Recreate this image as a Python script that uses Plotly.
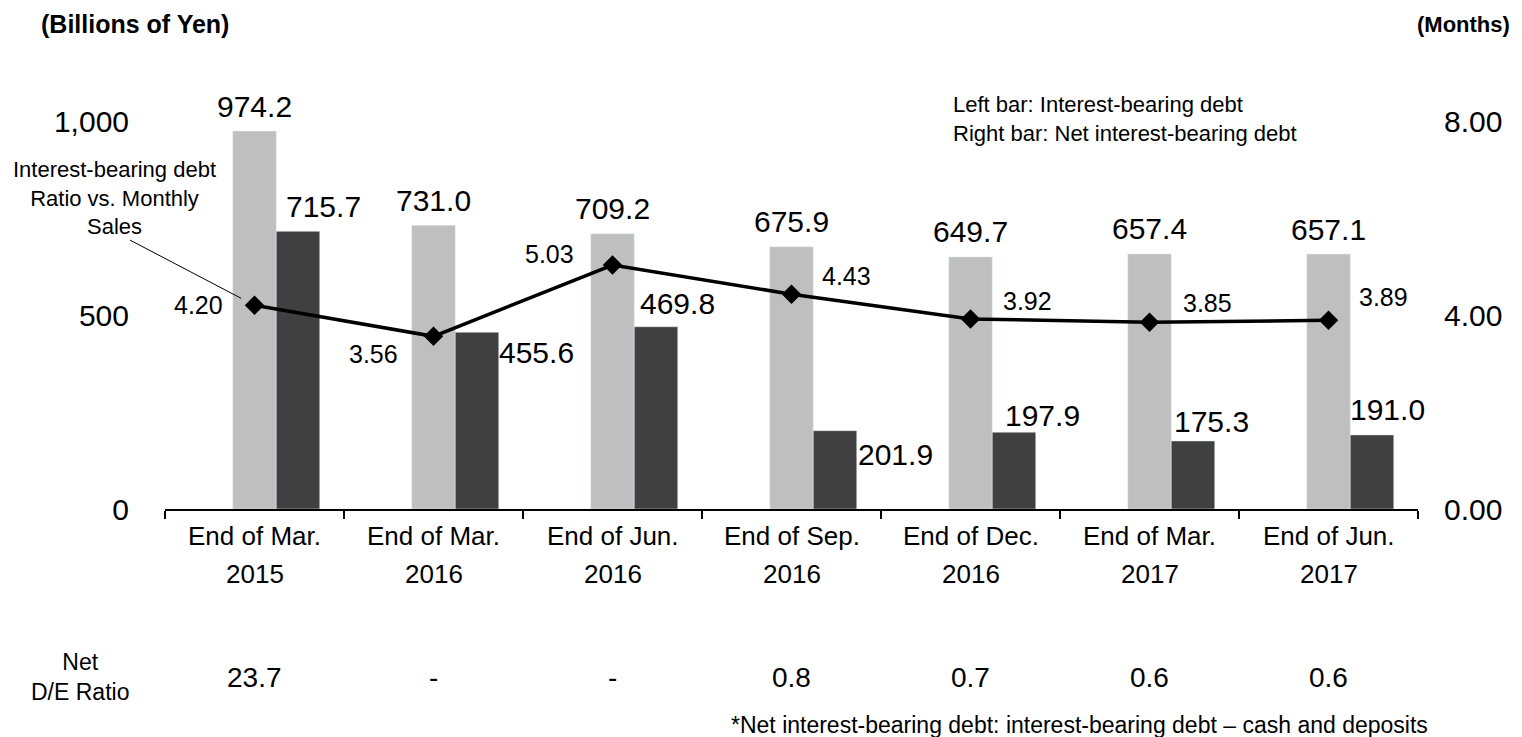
import plotly.graph_objects as go

# data
periods = ["End of Mar.<br>2015", "End of Mar.<br>2016", "End of Jun.<br>2016",
           "End of Sep.<br>2016", "End of Dec.<br>2016", "End of Mar.<br>2017",
           "End of Jun.<br>2017"]
debt = [974.2, 731.0, 709.2, 675.9, 649.7, 657.4, 657.1]
net_debt = [715.7, 455.6, 469.8, 201.9, 197.9, 175.3, 191.0]
ratio_months = [4.20, 3.56, 5.03, 4.43, 3.92, 3.85, 3.89]
net_de = ["23.7", "-", "-", "0.8", "0.7", "0.6", "0.6"]

# label placement (pixel shifts), styling only
net_label_shift = [(69, 25), (103, -20), (65, 23), (104, -24), (72, 17), (62, 19), (59, 25)]
ratio_label_shift = [(-56, 0), (-60, -18), (-63, 11), (55, 18), (57, 18), (58, 19), (55, 23)]

FONT = "Arial, Liberation Sans, sans-serif"
LIGHT = "#bfbfbf"
DARK = "#404040"
BW = 0.243


def f(size):
    return dict(size=size, family=FONT, color="black")


fig = go.Figure()
fig.add_trace(go.Bar(x=periods, y=debt, marker_color=LIGHT, width=BW, offset=-BW / 2,
                     name="Interest-bearing debt"))
fig.add_trace(go.Bar(x=periods, y=net_debt, marker_color=DARK, width=BW, offset=BW / 2,
                     name="Net interest-bearing debt"))
fig.add_trace(go.Scatter(x=periods, y=ratio_months, yaxis="y2", mode="lines+markers",
                         line=dict(color="black", width=3.5),
                         marker=dict(symbol="diamond", size=15, color="black"),
                         name="Ratio vs. Monthly Sales"))

ann = []
for p, v in zip(periods, debt):
    ann.append(dict(x=p, y=v, xref="x", yref="y", text=f"{v:.1f}", showarrow=False,
                    yshift=25, font=f(30)))
for p, v, (dx, dy) in zip(periods, net_debt, net_label_shift):
    ann.append(dict(x=p, y=v, xref="x", yref="y", text=f"{v:.1f}", showarrow=False,
                    xshift=dx, yshift=dy, font=f(30)))
for p, v, (dx, dy) in zip(periods, ratio_months, ratio_label_shift):
    ann.append(dict(x=p, y=v, xref="x", yref="y2", text=f"{v:.2f}", showarrow=False,
                    xshift=dx, yshift=dy, font=f(25)))

# category labels, two rows
for p in periods:
    top, bottom = p.split("<br>")
    ann.append(dict(x=p, y=-0.0696, xref="x", yref="paper", text=top, showarrow=False,
                    xanchor="center", yanchor="middle", font=f(26)))
    ann.append(dict(x=p, y=-0.1675, xref="x", yref="paper", text=bottom, showarrow=False,
                    xanchor="center", yanchor="middle", font=f(26)))

# net D/E row
for p, t in zip(periods, net_de):
    ann.append(dict(x=p, y=-0.434, xref="x", yref="paper", text=t, showarrow=False,
                    xanchor="center", yanchor="middle", font=f(28)))

# leader line to the ratio line
ann.append(dict(x=periods[0], y=ratio_months[0], xref="x", yref="y2", text="",
                showarrow=True, arrowhead=0, arrowwidth=1, arrowcolor="black",
                ax=-126, ay=-66, standoff=15))

txt = dict(showarrow=False, xref="paper", yref="paper", yanchor="middle")
ann += [
    dict(text="<b>(Billions of Yen)</b>", x=-0.1006, y=1.25, xanchor="left",
         font=f(25), **txt),
    dict(text="<b>(Months)</b>", x=1.075, y=1.25, xanchor="right", font=f(22), **txt),
    dict(text="Left bar: Interest-bearing debt<br>Right bar: Net interest-bearing debt",
         x=0.6273, y=1.004, xanchor="left", align="left", font=f(22), **txt),
    dict(text="Interest-bearing debt<br>Ratio vs. Monthly<br>Sales", x=-0.0407, y=0.8015,
         xanchor="center", align="center", font=f(22), **txt),
    dict(text="Net<br>D/E Ratio", x=-0.0678, y=-0.434, xanchor="center", align="center",
         font=f(23), **txt),
    dict(text="*Net interest-bearing debt: interest-bearing debt \u2013 cash and deposits",
         x=1.0096, y=-0.5567, xanchor="right", font=f(23), **txt),
]

fig.update_layout(
    width=1522, height=737,
    margin=dict(l=165, r=104, t=121, b=228),
    paper_bgcolor="white", plot_bgcolor="white",
    barmode="overlay", showlegend=False,
    font=dict(family=FONT, color="black"),
    annotations=ann,
    xaxis=dict(type="category", range=[-0.5, 6.5], showline=True, linecolor="black",
               linewidth=2, ticks="outside", tickson="boundaries", ticklen=8,
               tickwidth=1.5, tickcolor="black", showgrid=False, showticklabels=False),
    yaxis=dict(range=[0, 1000], tickvals=[0, 500, 1000], tickformat=",",
               showgrid=False, zeroline=False, showline=False, ticks="",
               ticklabelstandoff=35, tickfont=f(30)),
    yaxis2=dict(range=[0, 8], tickvals=[0, 4, 8], tickformat=".2f", overlaying="y",
                side="right", showgrid=False, zeroline=False, showline=False, ticks="",
                ticklabelstandoff=25, tickfont=f(30)),
)

fig.write_html("out.html", config={"displayModeBar": False},
               post_script="document.body.style.margin='0';document.body.style.overflow='hidden';")
